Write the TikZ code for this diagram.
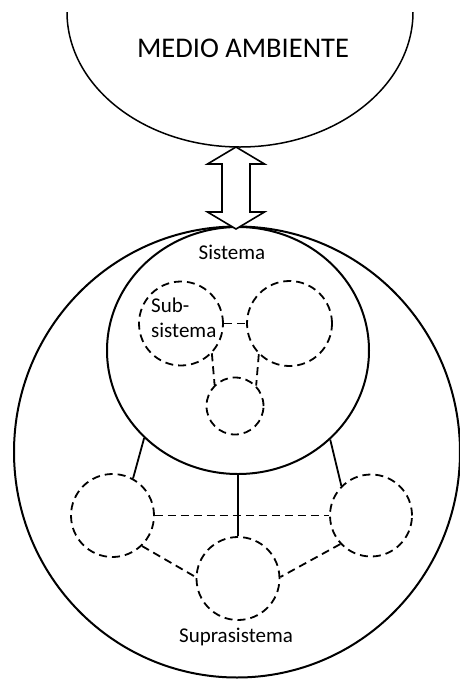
\documentclass[tikz,border=0pt]{standalone}
\usepackage{fontspec}
\setmainfont{Carlito}
\usetikzlibrary{shapes.geometric,calc}
\begin{document}
\begin{tikzpicture}[x=1pt,y=-1pt,
  solidring/.style={ellipse,draw,line width=2pt,inner sep=0pt},
  subring/.style={circle,draw,line width=1.8pt,dash pattern=on 8pt off 5pt,inner sep=0pt},
  dashlink/.style={line width=1.8pt,dash pattern=on 8pt off 5pt},
  solidlink/.style={line width=1.8pt},
  lbl/.style={font=\fontsize{21}{25}\selectfont,inner sep=0pt}]
\useasboundingbox (0,0) rectangle (459,681);
% environment (top, cut off)
\begin{scope}
\clip (0,12) rectangle (459,681);
\node[ellipse,draw,line width=1.5pt,minimum width=346pt,minimum height=270pt,inner sep=0pt] (amb) at (240,12) {};
\end{scope}
\node[font=\fontsize{28.5}{30}\selectfont,inner sep=0pt] (ambt) at (243,48) {MEDIO AMBIENTE};
% supra and system
\node[solidring,minimum width=446pt,minimum height=451pt] (sup) at (237,452) {};
\node[solidring,minimum width=262pt,minimum height=247pt] (sis) at (238,350.5) {};
% double arrow
\coordinate (at) at (236,147);
\coordinate (ab) at (236,229);
\draw[line width=1.6pt,fill=white,line join=miter]
  (at) -- ($(at)+(28.5,17)$) -- ($(at)+(14,17)$) -- ($(ab)+(14,-17)$) -- ($(ab)+(28.5,-17)$)
  -- (ab) -- ($(ab)+(-28.5,-17)$) -- ($(ab)+(-14,-17)$) -- ($(at)+(-14,17)$) -- ($(at)+(-28.5,17)$) -- cycle;
\node[lbl] (sist) at (232,252) {Sistema};
% subsystems
\node[subring,minimum size=84pt] (s1) at (181,323.5) {};
\node[subring,minimum size=85pt] (s2) at (289.5,323.5) {};
\node[subring,minimum size=57pt] (s3) at (235,406) {};
\node[lbl,anchor=west,align=left] (subt) at (151,317.5) {Sub-\\sistema};
\draw[dashlink] (s1.east) -- (s2.west);
\draw[dashlink] (s1.-44) -- (s3.134);
\draw[dashlink] (s2.225) -- (s3.44);
% supra components
\node[subring,minimum size=83pt] (L) at (112.5,515.5) {};
\node[subring,minimum size=82pt] (R) at (371,515.5) {};
\node[subring,minimum size=83pt] (M) at (238,578.5) {};
\draw[solidlink] (sis.223.6) -- (L.61);
\draw[solidlink] (sis.south) -- (M.north);
\draw[solidlink] (sis.316.7) -- (R.135);
\draw[dashlink] (L.east) -- (R.west);
\draw[dashlink] (L.-46) -- (M.178);
\draw[dashlink] (R.223) -- (M.2);
\node[lbl] (supt) at (236,637) {Suprasistema};
\end{tikzpicture}
\end{document}
